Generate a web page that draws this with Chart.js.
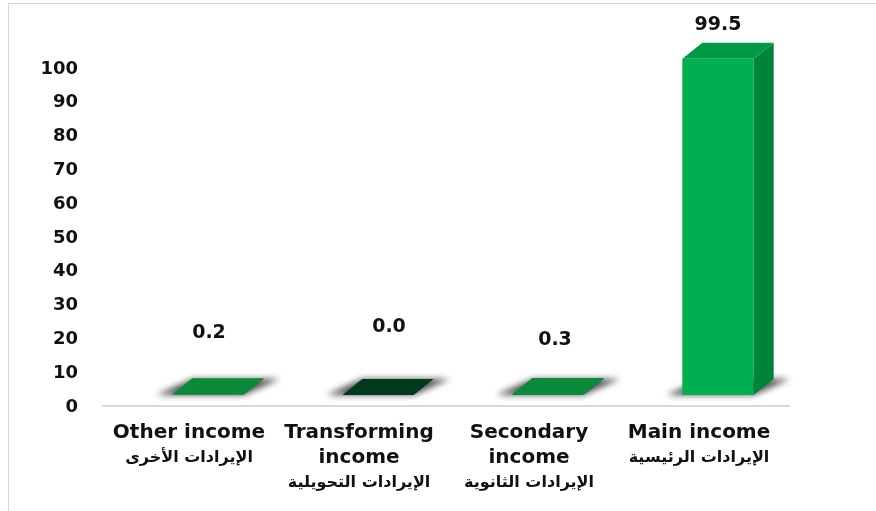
<!DOCTYPE html>
<html>
<head>
<meta charset="utf-8">
<script src="https://cdn.jsdelivr.net/npm/chart.js@4.4.1/dist/chart.umd.min.js"></script>
<style>
  html, body { margin: 0; padding: 0; background: #fff; }
  #wrap { position: relative; width: 876px; height: 511px; overflow: hidden; }
  #frame { position: absolute; left: 8px; top: 3px; right: -2px; bottom: -2px;
           border-left: 1px solid #d6d6d6; border-top: 1px solid #d6d6d6; }
  canvas { position: absolute; left: 0; top: 0; }
</style>
</head>
<body>
<div id="wrap">
  <div id="frame"></div>
  <canvas id="incomeChart" width="876" height="511"></canvas>
</div>
<script>
// categories: English lines as axis ticks, Arabic line drawn under them
const categories = [
    ['Other income'],
    ['Transforming', 'income'],
    ['Secondary', 'income'],
    ['Main income']
];
const arabicNames = [
    'الإيرادات الأخرى',
    'الإيرادات التحويلية',
    'الإيرادات الثانوية',
    'الإيرادات الرئيسية'
];
const shares = [0.2, 0.0, 0.3, 99.5];
const yMin = 0;
const yMax = 100;
const yStep = 10;

// colours of the faces
const frontColors = ['#0c8a3c', '#023a1d', '#0c8a3c', '#00b050'];
const topColors = ['#0c8a3c', '#023a1d', '#0c8a3c', '#009a45'];
const sideColors = ['#07702f', '#012a14', '#07702f', '#00843c'];
// where the value labels sit relative to the bar top
const labelRise = [61, 68, 54, 34];
const labelShift = [1, 11, 7, 0];

const DEPTH_X = 20;
const DEPTH_Y = -16;
const LINE_H = 25;
const FONT = '"DejaVu Sans", Arial, sans-serif';

const bar3d = {
    id: 'bar3d',
    beforeDatasetsDraw(chart) {
        const ctx = chart.ctx;
        const area = chart.chartArea;
        const base = chart.scales.y.getPixelForValue(0);
        ctx.save();
        // floor line
        ctx.strokeStyle = '#d9d9d9';
        ctx.lineWidth = 2;
        ctx.beginPath();
        ctx.moveTo(area.left - 21, base + 11);
        ctx.lineTo(area.right - 13, base + 11);
        ctx.stroke();
        // soft shadows on the floor
        ctx.filter = 'blur(3px)';
        ctx.fillStyle = 'rgba(40, 40, 40, 0.8)';
        chart.getDatasetMeta(0).data.forEach(function(bar) {
            const p = bar.getProps(['x', 'width'], true);
            const l = p.x - p.width / 2;
            const r = p.x + p.width / 2;
            ctx.beginPath();
            ctx.moveTo(l - 16, base);
            ctx.lineTo(r, base);
            ctx.lineTo(r + DEPTH_X + 16, base + DEPTH_Y);
            ctx.lineTo(l + DEPTH_X, base + DEPTH_Y);
            ctx.closePath();
            ctx.fill();
        });
        ctx.restore();
    },
    afterDatasetsDraw(chart) {
        const ctx = chart.ctx;
        ctx.save();
        chart.getDatasetMeta(0).data.forEach(function(bar, i) {
            const p = bar.getProps(['x', 'y', 'base', 'width'], true);
            const l = p.x - p.width / 2;
            const r = p.x + p.width / 2;
            // side face
            ctx.fillStyle = sideColors[i];
            ctx.beginPath();
            ctx.moveTo(r, p.y);
            ctx.lineTo(r + DEPTH_X, p.y + DEPTH_Y);
            ctx.lineTo(r + DEPTH_X, p.base + DEPTH_Y);
            ctx.lineTo(r, p.base);
            ctx.closePath();
            ctx.fill();
            // top face
            ctx.fillStyle = topColors[i];
            ctx.beginPath();
            ctx.moveTo(l, p.y);
            ctx.lineTo(r, p.y);
            ctx.lineTo(r + DEPTH_X, p.y + DEPTH_Y);
            ctx.lineTo(l + DEPTH_X, p.y + DEPTH_Y);
            ctx.closePath();
            ctx.fill();
            // value label
            ctx.fillStyle = '#111';
            ctx.font = 'bold 19px ' + FONT;
            ctx.textAlign = 'center';
            ctx.textBaseline = 'middle';
            ctx.fillText(shares[i].toFixed(1), p.x + labelShift[i], p.y - labelRise[i]);
        });
        ctx.restore();
    },
    afterDraw(chart) {
        // Arabic line under each English category label
        const ctx = chart.ctx;
        const xScale = chart.scales.x;
        const firstLine = chart.chartArea.bottom + 38;
        ctx.save();
        ctx.fillStyle = '#111';
        ctx.font = 'bold 16px ' + FONT;
        ctx.textAlign = 'center';
        ctx.textBaseline = 'middle';
        arabicNames.forEach(function(name, i) {
            const x = xScale.getPixelForTick(i) + xScale.options.ticks.labelOffset;
            ctx.fillText(name, x, firstLine + categories[i].length * LINE_H);
        });
        ctx.restore();
    }
};

const ctx = document.getElementById('incomeChart').getContext('2d');
const incomeChart = new Chart(ctx, {
    type: 'bar',
    data: {
        labels: categories,
        datasets: [{
            data: shares,
            backgroundColor: frontColors,
            borderWidth: 0,
            categoryPercentage: 1.0,
            barPercentage: 0.42
        }]
    },
    options: {
        responsive: false,
        animation: false,
        layout: {
            padding: { top: 57, left: 41, right: 73, bottom: 16 }
        },
        plugins: {
            legend: { display: false },
            tooltip: { enabled: false }
        },
        scales: {
            x: {
                grid: { display: false },
                border: { display: false },
                afterFit: function(scale) {
                    scale.paddingLeft = 0;
                    scale.paddingRight = 0;
                    scale.height = 100;
                },
                ticks: {
                    color: '#111',
                    padding: 17,
                    labelOffset: -19,
                    maxRotation: 0,
                    autoSkip: false,
                    font: { family: FONT, size: 20, weight: 'bold', lineHeight: 1.25 }
                }
            },
            y: {
                min: yMin,
                max: yMax,
                grid: { display: false },
                border: { display: false },
                afterFit: function(scale) {
                    scale.width = 82;
                },
                ticks: {
                    stepSize: yStep,
                    color: '#111',
                    padding: 37,
                    labelOffset: 12,
                    font: { family: FONT, size: 18, weight: 'bold' }
                }
            }
        }
    },
    plugins: [bar3d]
});
</script>
</body>
</html>
